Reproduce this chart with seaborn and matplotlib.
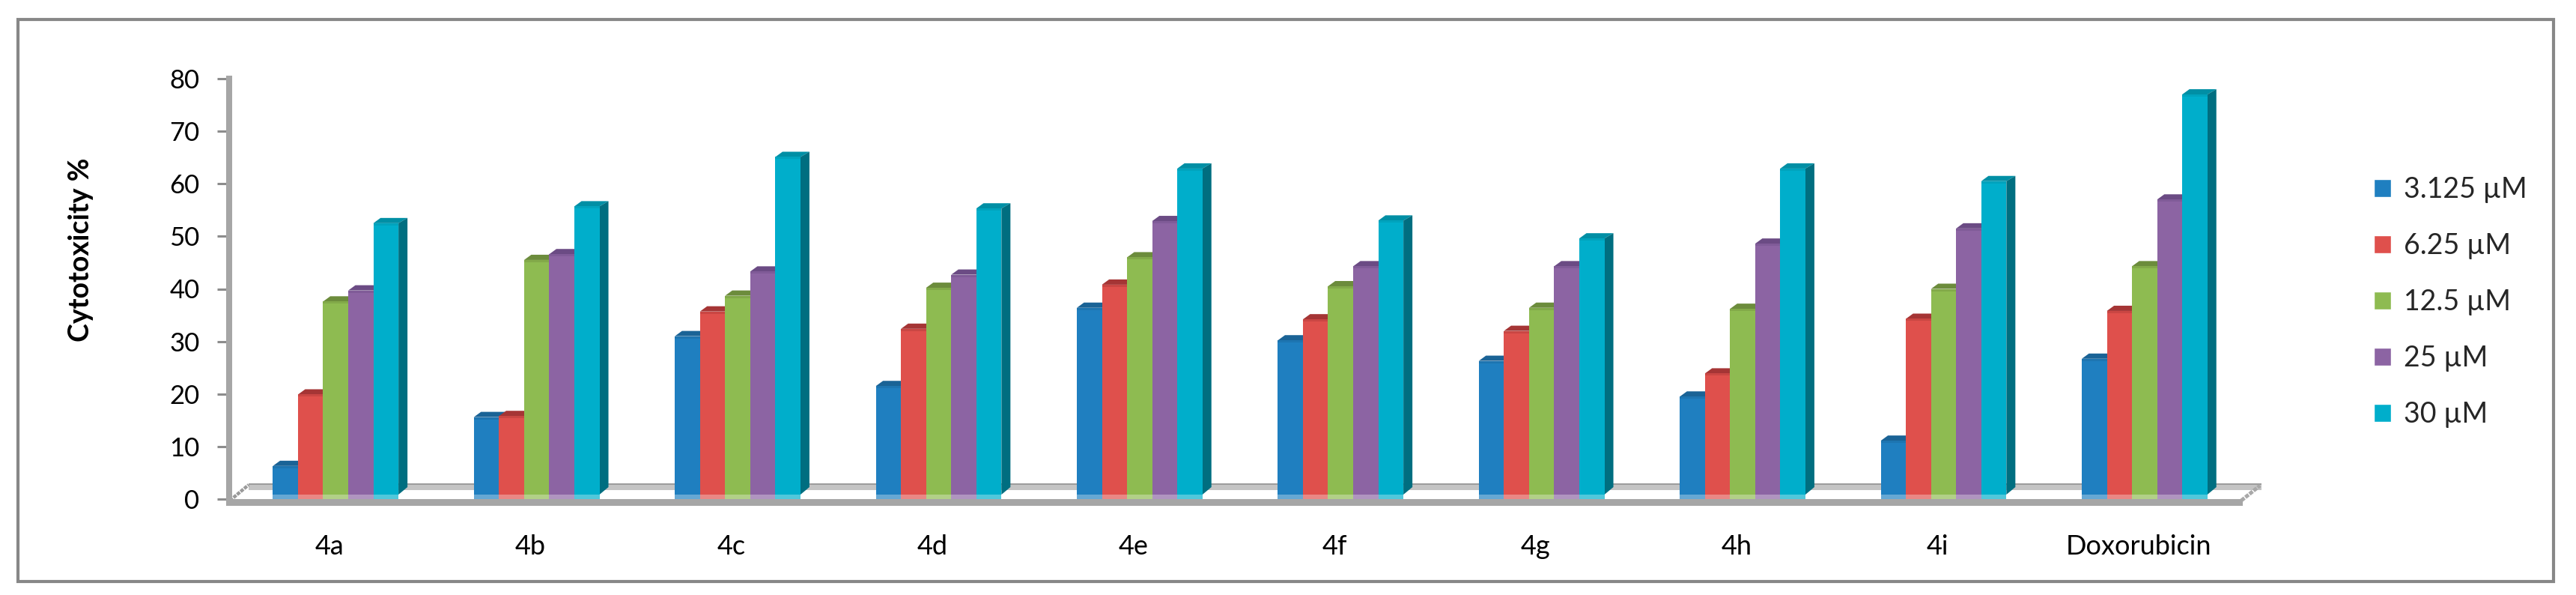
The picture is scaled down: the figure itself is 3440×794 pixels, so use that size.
import pandas as pd
import seaborn as sns
import matplotlib.pyplot as plt
from matplotlib.patches import Polygon, Rectangle

compounds = ['4a', '4b', '4c', '4d', '4e', '4f', '4g', '4h', '4i', 'Doxorubicin']
doses = ['3.125 µM', '6.25 µM', '12.5 µM', '25 µM', '30 µM']
dose_3125 = [6.3, 15.6, 31.0, 21.5, 36.4, 30.2, 26.3, 19.5, 11.1, 26.7]
dose_625 = [19.9, 15.8, 35.7, 32.4, 40.8, 34.2, 32.0, 23.9, 34.3, 35.8]
dose_125 = [37.6, 45.5, 38.7, 40.2, 46.0, 40.5, 36.4, 36.2, 40.0, 44.3]
dose_25 = [39.7, 46.6, 43.3, 42.7, 52.9, 44.3, 44.3, 48.6, 51.5, 57.0]
dose_30 = [52.5, 55.7, 65.1, 55.3, 62.9, 53.0, 49.6, 62.9, 60.5, 77.0]
y_ticks = [0, 10, 20, 30, 40, 50, 60, 70, 80]

front_cols = ['#1F7FC0', '#DF504C', '#8EBB51', '#8C64A3', '#00AECB']
top_cols = ['#1A6396', '#A53535', '#6C8C3C', '#6B4B84', '#008FA5']
side_cols = ['#17577F', '#8F2E2C', '#5E7A33', '#5B3F72', '#006E80']

df = pd.DataFrame({'compound': compounds, doses[0]: dose_3125, doses[1]: dose_625,
                   doses[2]: dose_125, doses[3]: dose_25, doses[4]: dose_30})
df = df.melt(id_vars='compound', var_name='dose', value_name='cytotoxicity')

sns.set_theme(style='white')
plt.rcParams['font.family'] = ['Lato', 'DejaVu Sans']

W, H = 3440, 794
fig = plt.figure(figsize=(W / 100, H / 100), dpi=100)
# axes box in pixels: x 306-2990, y 105-666
ax = fig.add_axes([306 / W, (H - 666) / H, 2684 / W, 561 / H])
sns.barplot(data=df, x='compound', y='cytotoxicity', hue='dose', palette=front_cols,
            width=0.625, gap=0, saturation=1, ax=ax)

x_left = -0.53
ax.set_xlim(x_left, x_left + 10)
ax.set_ylim(0, 80)
px_x = 10 / 2684    # one pixel in x data units
px_y = 80 / 561     # one pixel in y data units

# fake 3d bars, built from the bars seaborn drew
depth_x, depth_y = 12 * px_x, 7 * px_y
for i, cont in enumerate(ax.containers):
    z = 3 + i
    for bar in cont:
        x0, x1, h = bar.get_x(), bar.get_x() + bar.get_width(), bar.get_height()
        bar.set_zorder(z + 0.5)
        bar.set_linewidth(0)
        ax.add_patch(Polygon([(x0, h), (x0 + 0.8 * depth_x, h + depth_y), (x1 + depth_x, h + depth_y), (x1, h)],
                             color=top_cols[i], lw=0, zorder=z))
        ax.add_patch(Polygon([(x1, h), (x1 + depth_x, h + depth_y), (x1 + depth_x, 16 * px_y), (x1, 6 * px_y)],
                             color=side_cols[i], lw=0, zorder=z))
        ax.add_patch(Polygon([(x0, h), (x1, h), (x1, h - 3 * px_y), (x0, h - 3 * px_y)],
                             color=top_cols[i], alpha=0.35, lw=0, zorder=z + 0.6))
        # lighter strip at the foot of each bar
        ax.add_patch(Rectangle((x0, 0), x1 - x0 + 3 * px_x, 6 * px_y, color='white', alpha=0.32, lw=0,
                               zorder=z + 0.6, clip_on=False))

# floor of the 3d box
x_right = x_left + 10
floor_col, back_dark, back_light = '#A6A6A6', '#9C9C9C', '#C4C4C4'
ax.add_patch(Rectangle((x_left + 26 * px_x, 12 * px_y), 10 + 4 * px_x, 9 * px_y, color=back_light, lw=0,
                       zorder=1, clip_on=False))
ax.add_patch(Rectangle((x_left + 26 * px_x, 19 * px_y), 10 + 4 * px_x, 2 * px_y, color=back_dark, lw=0,
                       zorder=1.1, clip_on=False))
ax.plot([x_left + 1 * px_x, x_left + 26 * px_x], [-2 * px_y, 19 * px_y], color='#9A9A9A', lw=3.2,
        ls=(0, (1.1, 0.3)), clip_on=False, zorder=1.2)
ax.plot([x_right + 3 * px_x, x_right + 28 * px_x], [-2 * px_y, 18 * px_y], color='#A8A8A8', lw=3.6,
        ls=(0, (1.1, 0.3)), clip_on=False, zorder=1.2)

# axes styling
sns.despine(ax=ax)
for s in ['left', 'bottom']:
    ax.spines[s].set_color(floor_col)
ax.spines['left'].set_linewidth(5.8)
ax.spines['bottom'].set_linewidth(6.5)
ax.spines['bottom'].set_position(('outward', 3.2))
ax.spines['bottom'].set_zorder(2)

ax.set_yticks(y_ticks)
ax.set_xticks([i - 0.03 for i in range(len(compounds))])
ax.set_xticklabels(compounds)
ax.tick_params(axis='y', left=True, length=11.5, width=2.2, color='#8C8C8C', pad=17, labelsize=25, labelcolor='black')
ax.tick_params(axis='x', bottom=False, pad=25, labelsize=26, labelcolor='black')

ax.set_xlabel('')
ax.set_ylabel('Cytotoxicity %', fontsize=27, fontweight='bold', color='black')
ax.yaxis.set_label_coords((125 - 306) / 2684, (666 - 333) / 561)

sns.move_legend(ax, loc='upper left', bbox_to_anchor=(3170 / W, (H - 235) / H), bbox_transform=fig.transFigure,
                frameon=False, title=None, fontsize=27, handlelength=0.61, handleheight=0.59,
                handletextpad=0.45, labelspacing=1.04, borderpad=0, borderaxespad=0)

# outer chart frame
fig.add_artist(Rectangle((24 / W, (H - 776) / H), 3386 / W, 750 / H, transform=fig.transFigure, fill=False,
                         edgecolor='#878787', lw=3))

fig.savefig('out.png', dpi=100)
